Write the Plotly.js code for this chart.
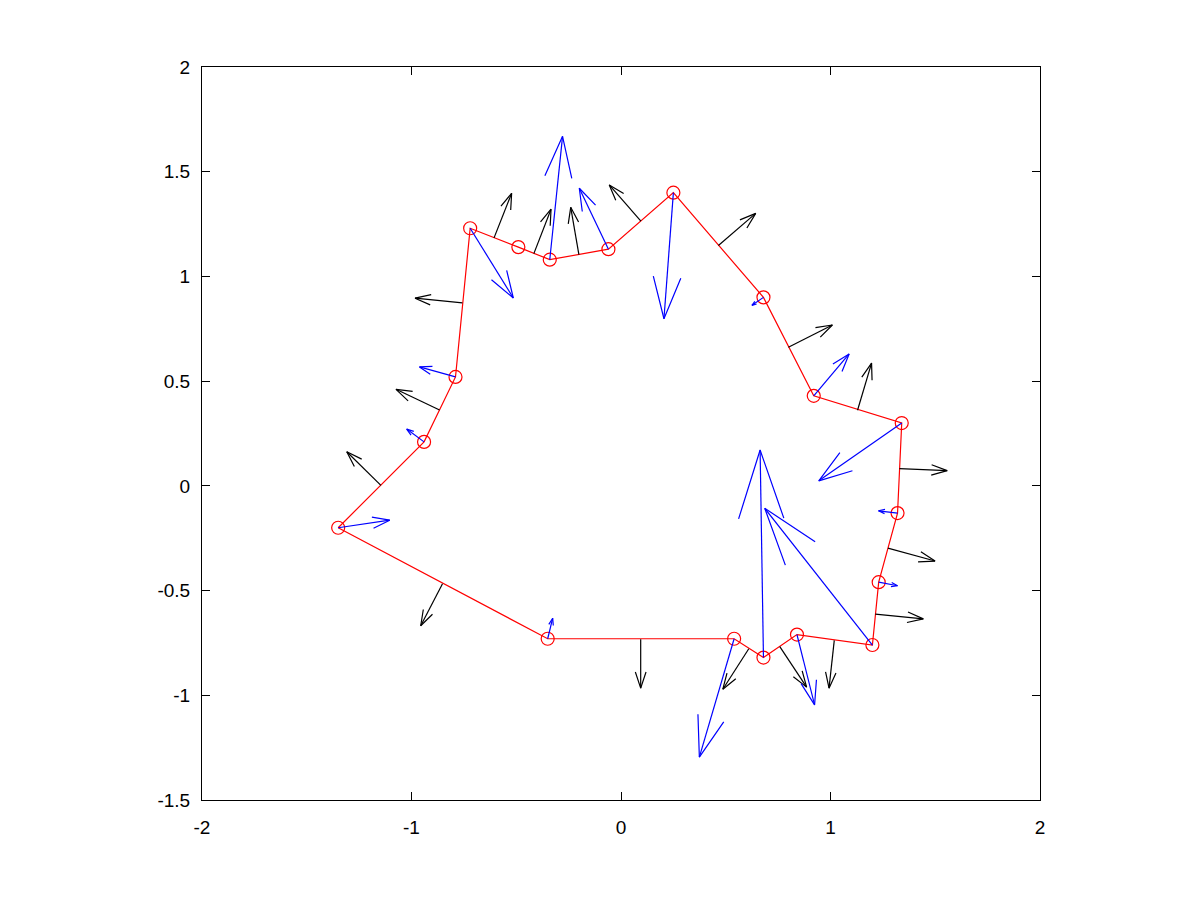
<!DOCTYPE html>
<html>
<head>
<meta charset="utf-8">
<script src="https://cdn.plot.ly/plotly-3.0.1.min.js"></script>
<style>html,body{margin:0;padding:0;background:#fff;}</style>
</head>
<body>
<div id="chart" style="width:1200px;height:900px;"></div>
<script>
// Polygon vertices (closed)
const vertX = [-1.35, -0.94, -0.79, -0.72, -0.49, -0.34, -0.06, 0.25, 0.68, 0.92, 1.34, 1.32, 1.23, 1.20, 0.84, 0.68, 0.54, -0.35];
const vertY = [-0.20, 0.21, 0.52, 1.23, 1.14, 1.08, 1.13, 1.40, 0.90, 0.43, 0.30, -0.13, -0.46, -0.76, -0.71, -0.82, -0.73, -0.73];

// Blue vectors at the vertices
const blueU = [0.246, -0.083, -0.172, 0.206, 0.0, 0.061, -0.139, -0.045, -0.055, 0.169, -0.396, -0.091, 0.090, -0.514, 0.084, -0.016, -0.166, 0.024];
const blueV = [0.036, 0.061, 0.048, -0.333, 0.0, 0.589, 0.291, -0.602, -0.038, 0.200, -0.276, 0.011, -0.017, 0.653, -0.336, 0.991, -0.565, 0.098];

// Black vectors at edge midpoints
const edgeX = [-1.146, -0.866, -0.757, -0.606, -0.416, -0.201, 0.095, 0.465, 0.799, 1.129, 1.329, 1.274, 1.214, 1.018, 0.758, 0.610, 0.094, -0.852];
const edgeY = [0.002, 0.362, 0.874, 1.184, 1.109, 1.104, 1.264, 1.148, 0.662, 0.361, 0.082, -0.297, -0.612, -0.738, -0.768, -0.778, -0.732, -0.467];
const blackU = [-0.163, -0.208, -0.226, 0.084, 0.082, -0.039, -0.151, 0.178, 0.210, 0.067, 0.228, 0.225, 0.229, -0.025, 0.128, -0.124, 0.000, -0.104];
const blackV = [0.161, 0.099, 0.022, 0.213, 0.212, 0.226, 0.173, 0.153, 0.106, 0.225, -0.009, -0.062, -0.023, -0.228, -0.193, -0.193, -0.234, -0.201];

const xTicks = [-2, -1, 0, 1, 2];
const yTicks = [-1.5, -1, -0.5, 0, 0.5, 1, 1.5, 2];

// quiver-style arrows (shaft + two head strokes)
function quiver(x, y, u, v) {
  const a = 0.33, b = 0.33;
  const X = [], Y = [];
  for (let i = 0; i < x.length; i++) {
    if (u[i] === 0 && v[i] === 0) continue;
    const tx = x[i] + u[i], ty = y[i] + v[i];
    X.push(x[i], tx, null);
    Y.push(y[i], ty, null);
    X.push(tx - a * (u[i] + b * v[i]), tx, tx - a * (u[i] - b * v[i]), null);
    Y.push(ty - a * (v[i] - b * u[i]), ty, ty - a * (v[i] + b * u[i]), null);
  }
  return {X, Y};
}

const polyX = vertX.concat([vertX[0]]);
const polyY = vertY.concat([vertY[0]]);
const bq = quiver(edgeX, edgeY, blackU, blackV);
const uq = quiver(vertX, vertY, blueU, blueV);

const traces = [
  {x: polyX, y: polyY, mode: 'lines', type: 'scatter', line: {color: '#ff0000', width: 1.2}, hoverinfo: 'skip'},
  {x: vertX, y: vertY, mode: 'markers', type: 'scatter', marker: {symbol: 'circle-open', size: 13, color: '#ff0000', line: {width: 1.2, color: '#ff0000'}}},
  {x: bq.X, y: bq.Y, mode: 'lines', type: 'scatter', line: {color: '#000000', width: 1.2}, connectgaps: false},
  {x: uq.X, y: uq.Y, mode: 'lines', type: 'scatter', line: {color: '#0000ff', width: 1.2}, connectgaps: false}
];

const axisCommon = {
  showgrid: false, zeroline: false, showline: true, linecolor: '#000', linewidth: 1,
  mirror: 'allticks', ticks: 'inside', ticklen: 8, tickcolor: '#000', tickwidth: 1,
  tickfont: {family: 'Liberation Sans, Arial, sans-serif', size: 19, color: '#000'}
};

const layout = {
  width: 1200, height: 900,
  margin: {l: 202, r: 160, t: 67, b: 100},
  paper_bgcolor: '#fff', plot_bgcolor: '#fff',
  showlegend: false,
  xaxis: Object.assign({}, axisCommon, {range: [-2, 2], tickvals: xTicks, ticktext: xTicks.map(String), ticklabelstandoff: 10}),
  yaxis: Object.assign({}, axisCommon, {range: [-1.5, 2], tickvals: yTicks, ticktext: yTicks.map(String), ticklabelstandoff: 7})
};

Plotly.newPlot('chart', traces, layout, {displayModeBar: false, staticPlot: true});
</script>
</body>
</html>
